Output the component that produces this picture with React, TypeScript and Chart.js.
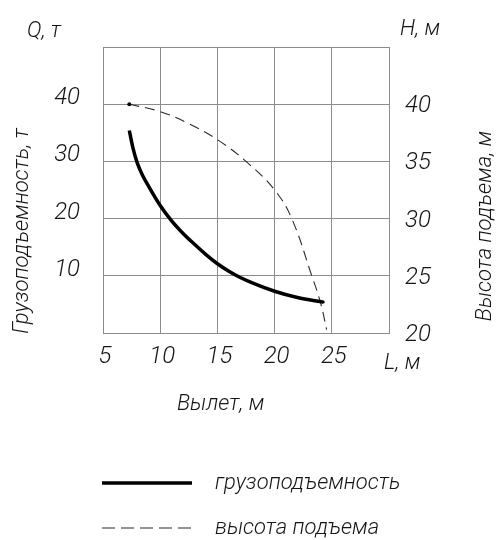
import { useEffect, useRef } from 'react';
import { Chart, registerables } from 'chart.js';

Chart.register(...registerables);

// Грузоподъемность Q (т) vs вылет L (м)
const capacityReach = [7.3, 7.6, 8.0, 8.5, 9.0, 10.0, 11.0, 12.0, 13.0, 14.0, 15.0, 16.0, 17.0, 18.0, 20.0, 22.0, 24.25];
const capacityTons = [35.4, 32.5, 29.7, 27.4, 25.6, 22.3, 19.6, 17.4, 15.5, 13.7, 12.1, 10.8, 9.7, 8.8, 7.3, 6.2, 5.4];

// Высота подъема H (м) vs вылет L (м)
const heightReach = [7.3, 10.0, 12.5, 15.0, 17.5, 20.0, 21.5, 23.25, 24.0, 24.55];
const heightMeters = [40.0, 39.35, 38.3, 36.9, 35.0, 32.5, 30.0, 25.0, 22.7, 20.3];

const reachTicks = [5, 10, 15, 20, 25];
const capacityTicks = [10, 20, 30, 40];
const heightTicks = [20, 25, 30, 35, 40];

const seriesNames = ['грузоподъемность', 'высота подъема'];
const axisTitles = {
  x: 'Вылет, м',
  y: 'Грузоподъемность, т',
  y1: 'Высота подъема, м',
  xUnit: 'L, м',
  yUnit: 'Q, т',
  y1Unit: 'H, м',
};

const FAMILY = "Roboto, 'DejaVu Sans', sans-serif";
const GRID = '#8c8c8c';
const INK = '#151515';

export default function App() {
  const ref = useRef<HTMLCanvasElement | null>(null);

  useEffect(() => {
    if (!ref.current) return;

    const textPlugin = {
      id: 'drawingTexts',
      afterDraw(chart: any) {
        const ctx = chart.ctx as CanvasRenderingContext2D;
        ctx.save();
        ctx.fillStyle = INK;
        ctx.textBaseline = 'middle';
        ctx.textAlign = 'left';
        ctx.font = `italic 300 22px ${FAMILY}`;
        ctx.fillText(axisTitles.yUnit, 27, 31);
        ctx.fillText(axisTitles.y1Unit, 400, 29);
        ctx.fillText(axisTitles.xUnit, 384, 363);
        ctx.fillText(axisTitles.x, 177, 404);

        ctx.textAlign = 'center';
        ctx.save();
        ctx.translate(22, 231);
        ctx.rotate(-Math.PI / 2);
        ctx.fillText(axisTitles.y, 0, 0);
        ctx.restore();
        ctx.save();
        ctx.translate(485, 226);
        ctx.rotate(-Math.PI / 2);
        ctx.fillText(axisTitles.y1, 0, 0);
        ctx.restore();

        // legend
        const ds = chart.data.datasets;
        const rows = [483, 528];
        ds.forEach((d: any, i: number) => {
          const y = rows[i];
          ctx.save();
          ctx.strokeStyle = d.borderColor;
          ctx.lineWidth = d.borderWidth;
          ctx.setLineDash(i === 1 ? [13, 6] : []);
          ctx.beginPath();
          ctx.moveTo(102, y);
          ctx.lineTo(192, y);
          ctx.stroke();
          ctx.restore();
          ctx.textAlign = 'left';
          ctx.fillText(d.label, 215, y);
        });
        ctx.restore();
      },
    };

    const tickFont = { family: FAMILY, size: 24, style: 'italic' as const, weight: 300 as any };

    const chart = new Chart(ref.current, {
      type: 'line',
      data: {
        datasets: [
          {
            label: seriesNames[0],
            data: capacityReach.map((x, i) => ({ x, y: capacityTons[i] })),
            borderColor: '#000',
            borderWidth: 3.5,
            pointRadius: capacityReach.map((_, i) => (i === capacityReach.length - 1 ? 1.5 : 0)),
            pointBackgroundColor: '#000',
            pointBorderWidth: 0,
            cubicInterpolationMode: 'monotone',
            yAxisID: 'y',
          },
          {
            label: seriesNames[1],
            data: heightReach.map((x, i) => ({ x, y: heightMeters[i] })),
            borderColor: '#2a2a2a',
            borderWidth: 1.1,
            borderDash: [10, 6],
            pointRadius: heightReach.map((_, i) => (i === 0 ? 2 : 0)),
            pointBackgroundColor: '#000',
            pointBorderWidth: 0,
            tension: 0.4,
            yAxisID: 'y1',
          },
        ],
      },
      options: {
        responsive: false,
        animation: false,
        layout: { padding: { top: 47, left: 0, right: 0, bottom: 0 } },
        plugins: { legend: { display: false }, tooltip: { enabled: false } },
        scales: {
          x: {
            type: 'linear',
            min: 5,
            max: 30,
            ticks: {
              stepSize: 5,
              font: tickFont,
              color: INK,
              padding: 10,
              maxRotation: 0,
              autoSkip: false,
              labelOffset: 2,
              callback: (v: any) => (reachTicks.includes(Number(v)) ? String(v) : ''),
            },
            grid: { color: GRID, lineWidth: 1, drawTicks: false },
            border: { display: true, color: GRID },
            afterFit: (s: any) => {
              s.height = 207;
            },
          },
          y: {
            type: 'linear',
            position: 'left',
            min: 0,
            max: 50,
            ticks: {
              stepSize: 10,
              font: tickFont,
              color: INK,
              padding: 23,
              labelOffset: -6,
              callback: (v: any) => (capacityTicks.includes(Number(v)) ? String(v) : ''),
            },
            grid: { color: GRID, lineWidth: 1, drawTicks: false },
            border: { display: true, color: GRID },
            afterFit: (s: any) => {
              s.width = 103;
            },
          },
          y1: {
            type: 'linear',
            position: 'right',
            min: 20,
            max: 45,
            ticks: {
              stepSize: 5,
              font: tickFont,
              color: INK,
              padding: 16,
              labelOffset: 2,
              callback: (v: any) => (heightTicks.includes(Number(v)) ? String(v) : ''),
            },
            grid: { display: false, drawTicks: false },
            border: { display: false },
            afterFit: (s: any) => {
              s.width = 108;
            },
          },
        },
      },
      plugins: [textPlugin],
    } as any);

    return () => chart.destroy();
  }, []);

  return (
    <div style={{ position: 'fixed', left: 0, top: 0, width: 497, height: 540, background: '#fff' }}>
      <canvas ref={ref} width={497} height={540} style={{ display: 'block' }} />
    </div>
  );
}
